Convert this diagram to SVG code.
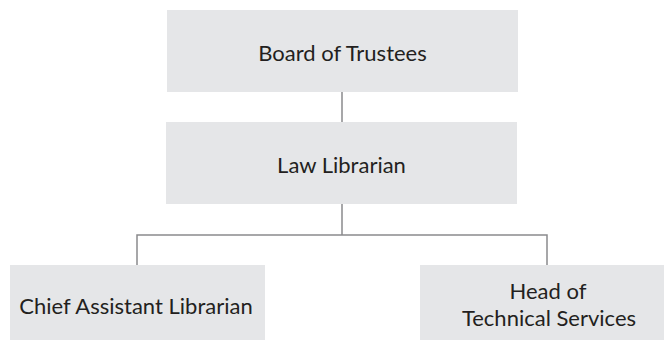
<svg xmlns="http://www.w3.org/2000/svg" width="664" height="340" viewBox="0 0 664 340">
<style>
.box{fill:#e5e6e8}
.lbl{font-family:Lato,"Open Sans",sans-serif;font-size:22px;fill:#231f20;text-anchor:middle}
.ln{stroke:#8a8a8d;stroke-width:1.5;fill:none}
</style>
<rect width="664" height="340" fill="#ffffff"/>
<g id="connectors">
<line class="ln" x1="342" y1="92" x2="342" y2="122"/>
<line class="ln" x1="342" y1="204" x2="342" y2="235"/>
<polyline class="ln" points="137,265 137,235 547,235 547,265"/>
</g>
<g id="board">
<rect class="box" x="167" y="10" width="351" height="82"/>
<text class="lbl" x="342.5" y="61">Board of Trustees</text>
</g>
<g id="law">
<rect class="box" x="166" y="122" width="351" height="82"/>
<text class="lbl" x="341.5" y="173">Law Librarian</text>
</g>
<g id="chief">
<rect class="box" x="10" y="265" width="255" height="80"/>
<text class="lbl" x="136" y="314">Chief Assistant Librarian</text>
</g>
<g id="head">
<rect class="box" x="420" y="265" width="250" height="80"/>
<text class="lbl" x="548" y="299">Head of</text>
<text class="lbl" x="549" y="326">Technical Services</text>
</g>
</svg>
